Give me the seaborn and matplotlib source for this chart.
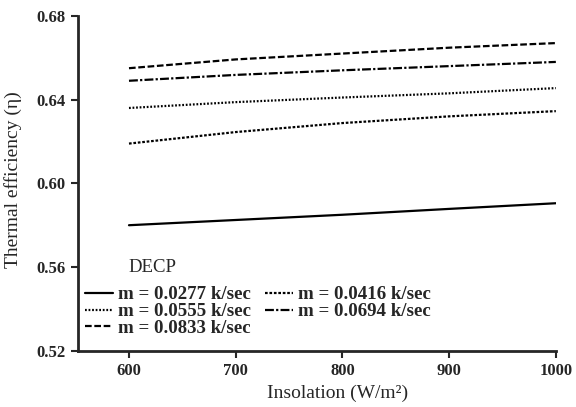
import numpy as np
import pandas as pd
import matplotlib
matplotlib.use("Agg")
import matplotlib.pyplot as plt
import seaborn as sns

# valori
insolation = [600, 700, 800, 900, 1000]
eff_0277 = [0.580, 0.5825, 0.585, 0.5878, 0.5905]
eff_0416 = [0.619, 0.6245, 0.6288, 0.632, 0.6345]
eff_0555 = [0.636, 0.6388, 0.641, 0.643, 0.6455]
eff_0694 = [0.649, 0.6518, 0.654, 0.656, 0.658]
eff_0833 = [0.655, 0.6592, 0.662, 0.6648, 0.667]
labels = ["m = 0.0277 k/sec", "m = 0.0416 k/sec", "m = 0.0555 k/sec",
          "m = 0.0694 k/sec", "m = 0.0833 k/sec"]

df = pd.DataFrame({"Insolation": insolation * 5,
                   "eff": eff_0277 + eff_0416 + eff_0555 + eff_0694 + eff_0833,
                   "m": np.repeat(labels, len(insolation))})

sns.set_style("ticks")
plt.rcParams['font.family'] = ['Liberation Serif', 'DejaVu Serif']

fig = plt.figure(figsize=(5.76, 4.07), dpi=100)
ax = fig.add_axes([0.135, 0.138, 0.83, 0.823])

styles = ["-", (0, (1.2, 0.8)), (0, (0.8, 0.8)), (0, (4, 1, 1, 1)), (0, (3, 1.2))]
for lab, ls in zip(labels, styles):
    sub = df[df.m == lab]
    sns.lineplot(x="Insolation", y="eff", data=sub, ax=ax, color="black",
                 linestyle=ls, linewidth=1.6, label=lab)

ax.set_xlim(552, 1000)
ax.set_ylim(0.52, 0.68)
ax.set_xticks([600, 700, 800, 900, 1000])
ax.set_yticks([0.52, 0.56, 0.60, 0.64, 0.68])
ax.set_yticklabels(['{:.2f}'.format(v) for v in [0.52, 0.56, 0.60, 0.64, 0.68]])
ax.tick_params(axis='both', labelsize=12, width=1.5, length=5, direction='out')
for t in ax.get_xticklabels() + ax.get_yticklabels():
    t.set_fontweight('bold')
for s in ['left', 'bottom']:
    ax.spines[s].set_linewidth(2)
sns.despine(ax=ax)

ax.set_xlabel("Insolation (W/m\u00b2)", fontsize=14)
ax.xaxis.set_label_coords(0.543, -0.1)
ax.set_ylabel("Thermal efficiency (\u03b7)", fontsize=14)
ax.yaxis.set_label_coords(-0.117, 0.51)

h, l = ax.get_legend_handles_labels()
order = [0, 2, 4, 1, 3]
leg = ax.legend([h[i] for i in order], [l[i] for i in order],
                ncol=2, frameon=False, prop={'size': 13.6, 'weight': 'bold'},
                loc="lower left", bbox_to_anchor=(0.015, 0.041),
                handlelength=1.5, handletextpad=0.25, columnspacing=0.75,
                labelspacing=-0.02, borderaxespad=0.0, borderpad=0.0)
ax.text(0.105, 0.248, "DECP", transform=ax.transAxes, fontsize=13.5,
        va="center", ha="left")

plt.savefig("out.png", dpi=100)
